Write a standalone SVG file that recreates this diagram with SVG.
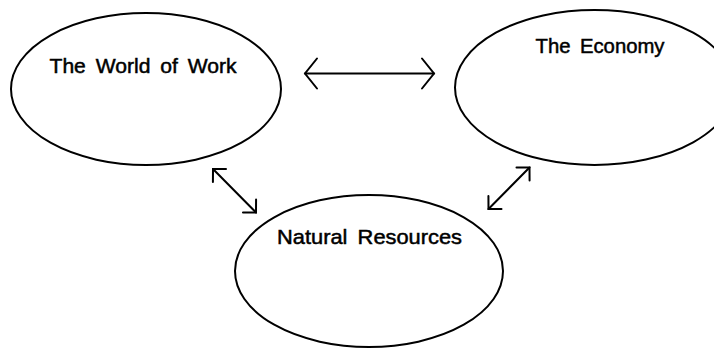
<svg xmlns="http://www.w3.org/2000/svg" width="714" height="348" viewBox="0 0 714 348">
  <style>
    .node { fill: #fff; stroke: #000; stroke-width: 2; }
    .label { font-family: "Liberation Sans", Arial, Helvetica, sans-serif; font-size: 21px; word-spacing: 4px; fill: #000; stroke: #000; stroke-width: 0.5; }
    .link { fill: none; stroke: #000; stroke-width: 2; stroke-linecap: round; }
    .head { fill: none; stroke: #000; stroke-width: 2; stroke-linecap: round; stroke-linejoin: miter; }
  </style>
  <defs>
    <!-- open chevron heads: wide one for the horizontal link, square one for the diagonals -->
    <marker id="headWide" markerUnits="userSpaceOnUse" viewBox="-20 -20 40 40" markerWidth="40" markerHeight="40" refX="0" refY="0" orient="auto-start-reverse" overflow="visible">
      <path class="head" d="M -12 -15 L 0 0 L -12 15"/>
    </marker>
    <marker id="headSquare" markerUnits="userSpaceOnUse" viewBox="-20 -20 40 40" markerWidth="40" markerHeight="40" refX="0" refY="0" orient="auto-start-reverse" overflow="visible">
      <path class="head" d="M -9.2 -9.2 L 0 0 L -9.2 9.2"/>
    </marker>
  </defs>

  <rect width="714" height="348" fill="#fff"/>

  <g id="world-of-work">
    <ellipse class="node" cx="146" cy="89" rx="135" ry="76"/>
    <text class="label" x="49.5" y="72.5" textLength="187" lengthAdjust="spacingAndGlyphs">The World of Work</text>
  </g>

  <g id="economy">
    <ellipse class="node" cx="594.5" cy="87.5" rx="139.5" ry="77.5"/>
    <text class="label" x="535.5" y="53.3" textLength="129" lengthAdjust="spacingAndGlyphs">The Economy</text>
  </g>

  <g id="natural-resources">
    <ellipse class="node" cx="369" cy="271" rx="134" ry="76"/>
    <text class="label" x="277" y="244.3" textLength="185" lengthAdjust="spacingAndGlyphs">Natural Resources</text>
  </g>

  <g id="connectors">
    <line class="link" x1="305" y1="73.5" x2="434" y2="73.5" marker-start="url(#headWide)" marker-end="url(#headWide)"/>
    <line class="link" x1="213" y1="169" x2="256" y2="212.5" marker-start="url(#headSquare)" marker-end="url(#headSquare)"/>
    <line class="link" x1="529.5" y1="167.5" x2="488.5" y2="209" marker-start="url(#headSquare)" marker-end="url(#headSquare)"/>
  </g>
</svg>
